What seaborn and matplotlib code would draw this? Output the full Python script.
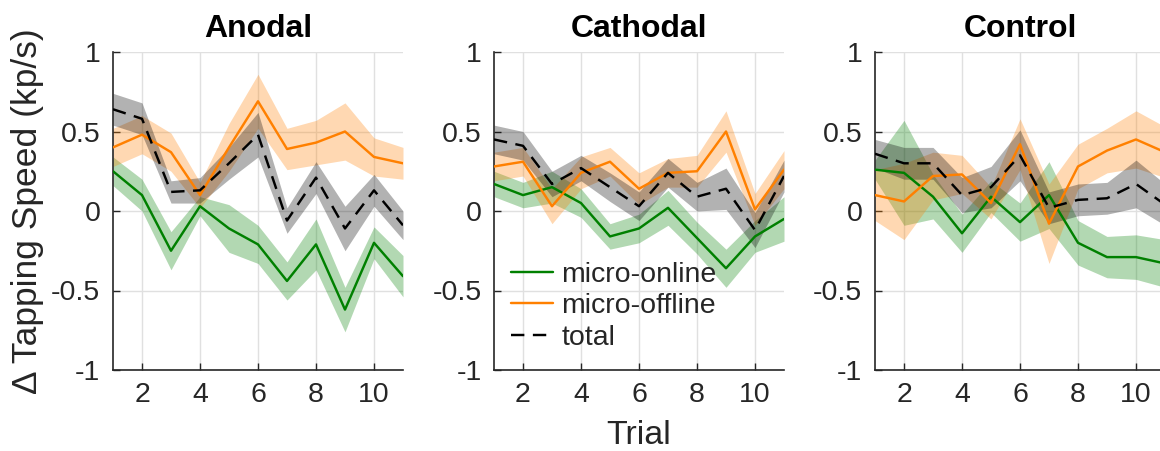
import numpy as np
import pandas as pd
import seaborn as sns
import matplotlib
matplotlib.use("Agg")
import matplotlib.pyplot as plt
from matplotlib.lines import Line2D

# ---------------- data ----------------
trials = list(range(1, 12))
conditions = ["Anodal", "Cathodal", "Control"]
series_names = ["micro-online", "micro-offline", "total"]

anodal_online = [0.25, 0.10, -0.25, 0.03, -0.11, -0.21, -0.44, -0.21, -0.62, -0.20, -0.41]
anodal_online_se = [0.09, 0.10, 0.12, 0.06, 0.15, 0.12, 0.12, 0.16, 0.14, 0.10, 0.13]
anodal_offline = [0.40, 0.48, 0.37, 0.10, 0.40, 0.69, 0.39, 0.43, 0.50, 0.34, 0.30]
anodal_offline_se = [0.12, 0.12, 0.12, 0.08, 0.15, 0.17, 0.13, 0.14, 0.18, 0.12, 0.10]
anodal_total = [0.64, 0.58, 0.12, 0.13, 0.30, 0.48, -0.06, 0.21, -0.11, 0.13, -0.09]
anodal_total_se = [0.10, 0.10, 0.07, 0.08, 0.10, 0.14, 0.08, 0.10, 0.14, 0.10, 0.09]

cathodal_online = [0.17, 0.10, 0.15, 0.05, -0.16, -0.11, 0.02, -0.17, -0.36, -0.16, -0.05]
cathodal_online_se = [0.08, 0.08, 0.10, 0.09, 0.08, 0.09, 0.11, 0.10, 0.12, 0.10, 0.14]
cathodal_offline = [0.28, 0.31, 0.03, 0.24, 0.31, 0.14, 0.24, 0.25, 0.50, 0.01, 0.26]
cathodal_offline_se = [0.09, 0.09, 0.11, 0.10, 0.09, 0.10, 0.09, 0.10, 0.13, 0.10, 0.12]
cathodal_total = [0.45, 0.41, 0.17, 0.27, 0.15, 0.03, 0.24, 0.09, 0.14, -0.12, 0.22]
cathodal_total_se = [0.09, 0.09, 0.08, 0.08, 0.09, 0.09, 0.09, 0.09, 0.13, 0.11, 0.10]

control_online = [0.26, 0.24, 0.09, -0.14, 0.09, -0.07, 0.10, -0.20, -0.29, -0.29, -0.33]
control_online_se = [0.06, 0.33, 0.14, 0.12, 0.10, 0.12, 0.21, 0.14, 0.13, 0.14, 0.15]
control_offline = [0.10, 0.06, 0.22, 0.23, 0.05, 0.42, -0.08, 0.28, 0.38, 0.45, 0.37]
control_offline_se = [0.16, 0.24, 0.15, 0.12, 0.10, 0.16, 0.25, 0.14, 0.14, 0.18, 0.16]
control_total = [0.36, 0.30, 0.30, 0.10, 0.15, 0.35, 0.02, 0.07, 0.08, 0.17, 0.04]
control_total_se = [0.09, 0.10, 0.10, 0.11, 0.13, 0.16, 0.10, 0.10, 0.10, 0.15, 0.13]

yticks = [-1, -0.5, 0, 0.5, 1]
ytick_labels = ["-1", "-0.5", "0", "0.5", "1"]
xticks = [2, 4, 6, 8, 10]

means = {
    "Anodal": [anodal_online, anodal_offline, anodal_total],
    "Cathodal": [cathodal_online, cathodal_offline, cathodal_total],
    "Control": [control_online, control_offline, control_total],
}
ses = {
    "Anodal": [anodal_online_se, anodal_offline_se, anodal_total_se],
    "Cathodal": [cathodal_online_se, cathodal_offline_se, cathodal_total_se],
    "Control": [control_online_se, control_offline_se, control_total_se],
}

rows = []
for c in conditions:
    for s, m, e in zip(series_names, means[c], ses[c]):
        for t, v, se in zip(trials, m, e):
            rows.append({"Condition": c, "Series": s, "Trial": t, "Value": v, "SE": se})
df = pd.DataFrame(rows)

# ---------------- style ----------------
sns.set_theme(style="white")
plt.rcParams["font.family"] = ["Liberation Sans", "DejaVu Sans"]

line_colors = {"micro-online": "#008000", "micro-offline": "#FF8000", "total": "#000000"}
band_colors = {"micro-online": "#008000", "micro-offline": "#FF8000", "total": "#000000"}
dash_map = {"micro-online": "", "micro-offline": "", "total": (5.5, 3.5)}

fig = plt.figure(figsize=(11.6, 4.51), dpi=100)
W, H = 1160.0, 451.0
lefts = [113, 494, 875]
ax_w, ax_top, ax_bot = 290, 52, 370

axes = []
for i, cond in enumerate(conditions):
    ax = fig.add_axes([lefts[i] / W, (H - ax_bot) / H, ax_w / W, (ax_bot - ax_top) / H])
    axes.append(ax)
    sub = df[df["Condition"] == cond]
    for s in series_names:
        d = sub[sub["Series"] == s]
        ax.fill_between(d["Trial"], d["Value"] - d["SE"], d["Value"] + d["SE"],
                        color=band_colors[s], alpha=0.3, linewidth=0, zorder=1)
    sns.lineplot(data=sub, x="Trial", y="Value", hue="Series", style="Series",
                 hue_order=series_names, style_order=series_names,
                 palette=line_colors, dashes=dash_map, linewidth=1.75,
                 legend=False, ax=ax, zorder=3, errorbar=None)
    ax.set_xlim(1, 11)
    ax.set_ylim(-1, 1)
    ax.set_xticks(xticks)
    ax.set_xticklabels([str(x) for x in xticks], fontsize=20.5, color="#262626")
    ax.set_yticks(yticks)
    ax.set_yticklabels(ytick_labels, fontsize=20.5, color="#262626")
    ax.grid(True, color="#e0e0e0", linewidth=1.0, zorder=0)
    ax.set_axisbelow(True)
    for sp in ["top", "right"]:
        ax.spines[sp].set_visible(False)
    for sp in ["left", "bottom"]:
        ax.spines[sp].set_color("#262626")
        ax.spines[sp].set_linewidth(1.2)
    ax.tick_params(direction="in", length=5, width=1.0, color="#262626", pad=9,
                   left=True, bottom=True)
    ax.set_title(cond, fontsize=23, fontweight="bold", pad=11, color="black")
    ax.set_xlabel("")
    ax.set_ylabel("")

axes[0].set_ylabel("\u0394 Tapping Speed (kp/s)", fontsize=25.5, labelpad=5, color="#262626")
axes[1].set_xlabel("Trial", fontsize=24.5, labelpad=8, color="#262626")

handles = [
    Line2D([], [], color=line_colors["micro-online"], linewidth=1.75),
    Line2D([], [], color=line_colors["micro-offline"], linewidth=1.75),
    Line2D([], [], color="black", linewidth=1.75, dashes=(5.5, 3.5)),
]
axes[1].legend(handles, series_names, loc="lower left", bbox_to_anchor=(0.06, 0.06),
               frameon=False, fontsize=20.5, handlelength=1.45, handletextpad=0.3,
               labelspacing=0.2, borderpad=0, borderaxespad=0)

fig.savefig("out.png", dpi=100)
